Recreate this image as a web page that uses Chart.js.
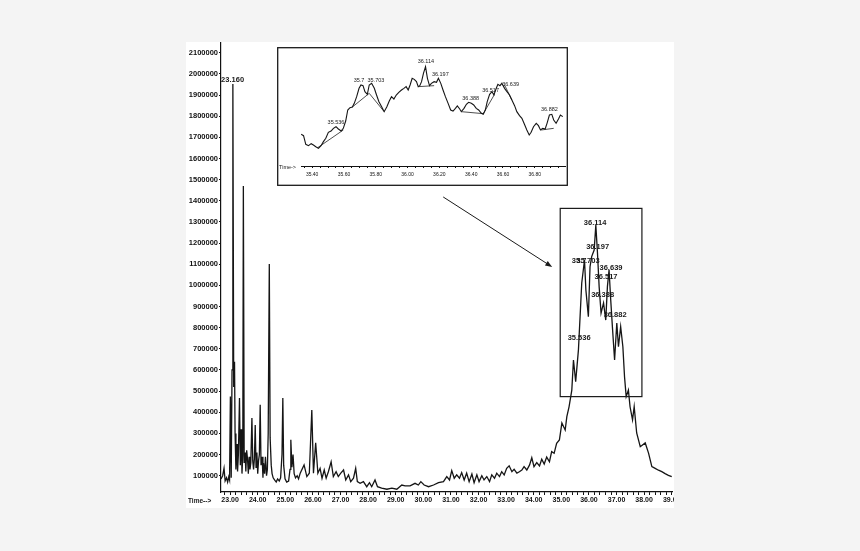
<!DOCTYPE html>
<html>
<head>
<meta charset="utf-8">
<title>Cromatograma</title>
<script src="https://cdn.jsdelivr.net/npm/chart.js@4.4.1/dist/chart.umd.min.js"></script>
<style>
    html, body { margin: 0; padding: 0; width: 860px; height: 551px; overflow: hidden; background: #f4f4f4; }
    #painel { position: absolute; left: 186px; top: 42px; width: 488px; height: 466px; background: #fff; }
    #painel canvas { position: absolute; left: 0; top: 0; }
    #graficoDetalhe { position: absolute; left: 277px; top: 47px; background: #fff; }
</style>
</head>
<body>
<div id="painel"><canvas id="graficoPrincipal" width="488" height="466"></canvas></div>
<canvas id="graficoDetalhe" width="291" height="139"></canvas>

<script>
// retention time (min) and abundance
const times = [
    22.67, 22.73, 22.78, 22.82, 22.87, 22.91, 22.95, 22.98, 23.01, 23.04,
    23.07, 23.10, 23.13, 23.16, 23.18, 23.21, 23.25, 23.27, 23.30, 23.34,
    23.37, 23.40, 23.43, 23.46, 23.48, 23.51, 23.54, 23.57, 23.60, 23.63,
    23.66, 23.69, 23.72, 23.75, 23.79, 23.82, 23.85, 23.88, 23.91, 23.94,
    23.97, 24.00, 24.03, 24.06, 24.09, 24.12, 24.16, 24.19, 24.21, 24.25,
    24.28, 24.32, 24.35, 24.38, 24.42, 24.45, 24.49, 24.52, 24.56, 24.61,
    24.67, 24.72, 24.78, 24.83, 24.88, 24.91, 24.94, 24.99, 25.05, 25.12,
    25.17, 25.20, 25.24, 25.28, 25.32, 25.37, 25.43, 25.48, 25.54, 25.68,
    25.78, 25.87, 25.96, 26.02, 26.10, 26.18, 26.26, 26.33, 26.41, 26.48,
    26.56, 26.66, 26.74, 26.84, 26.92, 27.01, 27.11, 27.19, 27.29, 27.37,
    27.47, 27.55, 27.61, 27.71, 27.83, 27.95, 28.05, 28.13, 28.25, 28.34,
    28.49, 28.68, 28.86, 29.04, 29.22, 29.34, 29.52, 29.70, 29.82, 29.91,
    30.03, 30.19, 30.37, 30.55, 30.73, 30.85, 30.95, 31.03, 31.12, 31.21,
    31.31, 31.39, 31.48, 31.57, 31.66, 31.76, 31.84, 31.94, 32.02, 32.12,
    32.20, 32.30, 32.40, 32.48, 32.58, 32.66, 32.76, 32.84, 32.93, 33.02,
    33.11, 33.21, 33.29, 33.39, 33.48, 33.57, 33.65, 33.75, 33.85, 33.93,
    34.01, 34.11, 34.21, 34.29, 34.38, 34.47, 34.57, 34.65, 34.74, 34.83,
    34.93, 35.02, 35.14, 35.20, 35.28, 35.38, 35.44, 35.52, 35.62, 35.74,
    35.84, 35.89, 35.98, 36.04, 36.10, 36.19, 36.25, 36.31, 36.37, 36.44,
    36.53, 36.61, 36.67, 36.73, 36.79, 36.85, 36.93, 37.01, 37.07, 37.15,
    37.23, 37.29, 37.35, 37.43, 37.49, 37.58, 37.64, 37.73, 37.86, 38.04,
    38.16, 38.28, 38.40, 38.52, 38.64, 38.76, 38.88, 39.00
];
const signal = [
    85000, 100000, 135000, 75000, 90000, 70000, 95000, 80000, 474000, 90000,
    600000, 1952000, 520000, 639000, 300000, 130000, 250000, 120000, 200000, 467000,
    150000, 320000, 110000, 200000, 1470000, 160000, 210000, 120000, 220000, 180000,
    110000, 190000, 130000, 160000, 373000, 170000, 130000, 180000, 340000, 140000,
    210000, 110000, 170000, 200000, 435000, 150000, 190000, 90000, 160000, 110000,
    190000, 100000, 130000, 300000, 1101000, 280000, 150000, 110000, 90000, 80000,
    70000, 85000, 75000, 90000, 200000, 467000, 150000, 85000, 70000, 75000,
    130000, 270000, 140000, 200000, 110000, 90000, 100000, 85000, 112000, 151000,
    96000, 112000, 411000, 112000, 256000, 112000, 135000, 88000, 127000, 88000,
    119000, 166000, 96000, 119000, 96000, 112000, 127000, 80000, 104000, 72000,
    88000, 135000, 72000, 64000, 72000, 48000, 67000, 48000, 80000, 48000,
    41000, 36000, 41000, 36000, 56000, 52000, 52000, 64000, 56000, 72000,
    56000, 48000, 56000, 67000, 72000, 96000, 80000, 124000, 88000, 104000,
    88000, 115000, 80000, 112000, 72000, 108000, 67000, 104000, 72000, 100000,
    80000, 96000, 72000, 104000, 88000, 112000, 96000, 119000, 104000, 135000,
    147000, 119000, 130000, 112000, 119000, 127000, 143000, 127000, 151000, 185000,
    143000, 162000, 146000, 178000, 155000, 188000, 166000, 214000, 206000, 253000,
    269000, 349000, 316000, 379000, 426000, 505000, 647000, 545000, 695000, 1011000,
    1120000, 978000, 852000, 1088000, 1136000, 1167000, 1285000, 1153000, 994000, 869000,
    917000, 836000, 994000, 1073000, 931000, 805000, 647000, 822000, 710000, 805000,
    710000, 568000, 474000, 505000, 426000, 364000, 426000, 302000, 237000, 255000,
    207000, 143000, 135000, 126000, 119000, 110000, 102000, 96000
];

// axis ticks
const yTicks = [];
for (let v = 100000; v <= 2100000; v += 100000) yTicks.push(v);
const xTicks = [];
for (let i = 0; i <= 81; i++) xTicks.push(Math.round((22.8 + i * 0.2) * 100) / 100);

// peak labels on the main trace
const mainLabelText = ["23.160", "36.114", "36.197", "35.7", "35.703", "36.639", "36.517", "36.388", "36.882", "35.536"];
const mainLabelTime = [23.09, 36.225, 36.315, 35.645, 35.97, 36.80, 36.62, 36.496, 36.949, 35.645];
const mainLabelValue = [1971000, 1295000, 1181000, 1115000, 1115000, 1082000, 1038000, 954000, 860000, 750000];

// zoomed region box and arrow
const zoomBoxTime = [34.96, 37.92];
const zoomBoxValue = [474000, 1364000];
const arrowTime = [30.72, 34.67];
const arrowValue = [1418000, 1087000];

// detail (35.3 - 37.0 min)
const insetTimes = [
    35.331, 35.346, 35.360, 35.377, 35.394, 35.408, 35.423, 35.440, 35.456, 35.471,
    35.486, 35.502, 35.519, 35.534, 35.550, 35.565, 35.582, 35.596, 35.611, 35.624,
    35.638, 35.653, 35.665, 35.680, 35.695, 35.707, 35.720, 35.732, 35.747, 35.759,
    35.774, 35.791, 35.805, 35.820, 35.837, 35.853, 35.870, 35.885, 35.899, 35.914,
    35.929, 35.945, 35.962, 35.977, 35.991, 36.004, 36.016, 36.029, 36.042, 36.056,
    36.067, 36.077, 36.088, 36.100, 36.113, 36.125, 36.138, 36.150, 36.167, 36.182,
    36.194, 36.209, 36.223, 36.238, 36.255, 36.271, 36.286, 36.301, 36.313, 36.328,
    36.338, 36.355, 36.370, 36.384, 36.401, 36.416, 36.432, 36.447, 36.464, 36.476,
    36.489, 36.501, 36.516, 36.531, 36.543, 36.556, 36.568, 36.581, 36.593, 36.610,
    36.625, 36.641, 36.656, 36.673, 36.687, 36.704, 36.719, 36.735, 36.750, 36.765,
    36.777, 36.792, 36.809, 36.823, 36.836, 36.850, 36.865, 36.877, 36.892, 36.907,
    36.919, 36.934, 36.949, 36.961, 36.976
];
const insetSignal = [
    676000, 664000, 586000, 574000, 592000, 580000, 565000, 550000, 574000, 610000,
    640000, 694000, 706000, 730000, 745000, 724000, 706000, 730000, 796000, 895000,
    916000, 922000, 955000, 1015000, 1090000, 1120000, 1114000, 1060000, 1036000, 1120000,
    1135000, 1090000, 1030000, 970000, 925000, 880000, 925000, 976000, 1015000, 994000,
    1030000, 1054000, 1075000, 1090000, 1105000, 1075000, 1120000, 1180000, 1171000, 1150000,
    1105000, 1114000, 1150000, 1225000, 1285000, 1180000, 1114000, 1135000, 1150000, 1144000,
    1180000, 1135000, 1075000, 1015000, 955000, 895000, 886000, 910000, 931000, 904000,
    880000, 910000, 946000, 964000, 955000, 940000, 910000, 895000, 865000, 856000,
    895000, 970000, 1036000, 1060000, 1030000, 1084000, 1126000, 1114000, 1135000, 1090000,
    1060000, 1030000, 985000, 934000, 880000, 844000, 820000, 766000, 715000, 670000,
    694000, 745000, 775000, 754000, 715000, 730000, 724000, 775000, 850000, 856000,
    805000, 775000, 814000, 850000, 835000
];
const insetTicks = [];
for (let i = 0; i <= 32; i++) insetTicks.push(Math.round((35.35 + i * 0.05) * 1000) / 1000);

const insetLabelText = ["35.536", "35.7", "35.703", "36.114", "36.197", "36.388", "36.517", "36.639", "36.882"];
const insetLabelTime = [35.550, 35.695, 35.801, 36.115, 36.206, 36.397, 36.522, 36.648, 36.892];
const insetLabelValue = [784000, 1165000, 1165000, 1336000, 1216000, 1000000, 1075000, 1126000, 904000];

// integration baselines drawn by the data system: [t1, v1, t2, v2]
const insetBaselines = [
    [35.435, 556000, 35.596, 715000],
    [35.653, 922000, 35.759, 1045000],
    [35.759, 1045000, 35.853, 880000],
    [36.067, 1105000, 36.167, 1114000],
    [36.338, 880000, 36.476, 862000],
    [36.476, 862000, 36.547, 1036000],
    [36.610, 1120000, 36.656, 985000],
    [36.840, 715000, 36.919, 730000]
];

Chart.defaults.font.family = "'Liberation Sans', Arial, sans-serif";
Chart.defaults.color = "#111";

const fonte = "'Liberation Sans', Arial, sans-serif";

const extrasPrincipal = {
    id: "extrasPrincipal",
    afterDraw(chart) {
        const ctx = chart.ctx;
        const x = chart.scales.x;
        const y = chart.scales.y;
        ctx.save();
        ctx.strokeStyle = "#1a1a1a";
        ctx.fillStyle = "#1a1a1a";
        ctx.lineWidth = 1.2;

        // box around the hump
        const bx1 = x.getPixelForValue(zoomBoxTime[0]);
        const bx2 = x.getPixelForValue(zoomBoxTime[1]);
        const by1 = y.getPixelForValue(zoomBoxValue[1]);
        const by2 = y.getPixelForValue(zoomBoxValue[0]);
        ctx.strokeRect(bx1, by1, bx2 - bx1, by2 - by1);

        // arrow
        const ax1 = x.getPixelForValue(arrowTime[0]);
        const ay1 = y.getPixelForValue(arrowValue[0]);
        const ax2 = x.getPixelForValue(arrowTime[1]);
        const ay2 = y.getPixelForValue(arrowValue[1]);
        const ang = Math.atan2(ay2 - ay1, ax2 - ax1);
        ctx.lineWidth = 1;
        ctx.beginPath();
        ctx.moveTo(ax1, ay1);
        ctx.lineTo(ax2 - 4 * Math.cos(ang), ay2 - 4 * Math.sin(ang));
        ctx.stroke();
        ctx.beginPath();
        ctx.moveTo(ax2, ay2);
        ctx.lineTo(ax2 - 7 * Math.cos(ang) + 2.6 * Math.sin(ang), ay2 - 7 * Math.sin(ang) - 2.6 * Math.cos(ang));
        ctx.lineTo(ax2 - 7 * Math.cos(ang) - 2.6 * Math.sin(ang), ay2 - 7 * Math.sin(ang) + 2.6 * Math.cos(ang));
        ctx.closePath();
        ctx.fill();

        // peak labels
        ctx.font = "bold 7.5px " + fonte;
        ctx.textAlign = "center";
        ctx.textBaseline = "middle";
        mainLabelText.forEach((txt, i) => {
            ctx.fillText(txt, x.getPixelForValue(mainLabelTime[i]), y.getPixelForValue(mainLabelValue[i]));
        });

        ctx.font = "bold 6.5px " + fonte;
        ctx.textAlign = "left";
        ctx.fillText("Time-->", 2, 459);
        ctx.restore();
    }
};

new Chart(document.getElementById("graficoPrincipal"), {
    type: "line",
    data: {
        datasets: [{
            data: times.map((t, i) => ({ x: t, y: signal[i] })),
            borderColor: "#151515",
            borderWidth: 1.3,
            pointRadius: 0,
            tension: 0
        }]
    },
    options: {
        responsive: false,
        animation: false,
        layout: { padding: { top: 1, right: 2, left: 0, bottom: 0 } },
        plugins: {
            legend: { display: false },
            tooltip: { enabled: false }
        },
        scales: {
            x: {
                type: "linear",
                min: 22.67,
                max: 39.01,
                afterBuildTicks: axis => { axis.ticks = xTicks.map(v => ({ value: v })); },
                afterFit: axis => { axis.height = 16; axis.paddingLeft = 0; axis.paddingRight = 0; },
                ticks: {
                    autoSkip: false,
                    maxRotation: 0,
                    padding: 1,
                    color: "#111",
                    font: { size: 7, weight: "bold" },
                    callback: v => Math.abs(v - Math.round(v)) < 0.001 ? Number(v).toFixed(2) : ""
                },
                grid: { drawOnChartArea: false, tickLength: 3, color: "#111" },
                border: { color: "#111", width: 1.2 }
            },
            y: {
                min: 23000,
                max: 2146000,
                afterBuildTicks: axis => { axis.ticks = yTicks.map(v => ({ value: v })); },
                afterFit: axis => { axis.width = 35; axis.paddingTop = 0; axis.paddingBottom = 0; },
                ticks: {
                    autoSkip: false,
                    padding: 1,
                    color: "#111",
                    font: { size: 7.5, weight: "bold" },
                    callback: v => String(v)
                },
                grid: { drawOnChartArea: false, tickLength: 2, color: "#111" },
                border: { color: "#111", width: 1.2 }
            }
        }
    },
    plugins: [extrasPrincipal]
});


// detalhe
const extrasDetalhe = {
    id: "extrasDetalhe",
    afterDraw(chart) {
        const ctx = chart.ctx;
        const x = chart.scales.x;
        const y = chart.scales.y;
        ctx.save();
        ctx.strokeStyle = "#1a1a1a";
        ctx.fillStyle = "#1a1a1a";
        ctx.lineWidth = 1.3;
        ctx.strokeRect(0.7, 0.7, chart.width - 1.4, chart.height - 1.4);

        ctx.font = "5.5px " + fonte;
        ctx.textAlign = "center";
        ctx.textBaseline = "middle";
        insetLabelText.forEach((txt, i) => {
            ctx.fillText(txt, x.getPixelForValue(insetLabelTime[i]), y.getPixelForValue(insetLabelValue[i]));
        });

        ctx.textAlign = "left";
        ctx.font = "5.5px " + fonte;
        ctx.fillText("Time->", 2, 120);
        ctx.restore();
    }
};

const baselineSets = insetBaselines.map(b => ({
    data: [{ x: b[0], y: b[1] }, { x: b[2], y: b[3] }],
    borderColor: "#222",
    borderWidth: 0.8,
    pointRadius: 0
}));

new Chart(document.getElementById("graficoDetalhe"), {
    type: "line",
    data: {
        datasets: [{
            data: insetTimes.map((t, i) => ({ x: t, y: insetSignal[i] })),
            borderColor: "#151515",
            borderWidth: 1.1,
            pointRadius: 0,
            tension: 0
        }].concat(baselineSets)
    },
    options: {
        responsive: false,
        animation: false,
        layout: { padding: { top: 8, right: 3, left: 24, bottom: 0 } },
        plugins: {
            legend: { display: false },
            tooltip: { enabled: false }
        },
        scales: {
            x: {
                type: "linear",
                min: 35.33,
                max: 36.99,
                afterBuildTicks: axis => { axis.ticks = insetTicks.map(v => ({ value: v })); },
                afterFit: axis => { axis.height = 20; axis.paddingLeft = 0; axis.paddingRight = 0; },
                ticks: {
                    autoSkip: false,
                    maxRotation: 0,
                    padding: 4,
                    color: "#111",
                    font: { size: 5 },
                    callback: v => Math.abs(v / 0.2 - Math.round(v / 0.2)) < 0.001 ? Number(v).toFixed(2) : ""
                },
                grid: { drawOnChartArea: false, tickLength: 2, color: "#111" },
                border: { color: "#111", width: 1 }
            },
            y: {
                display: false,
                min: 391000,
                max: 1390000
            }
        }
    },
    plugins: [extrasDetalhe]
});
</script>
</body>
</html>
